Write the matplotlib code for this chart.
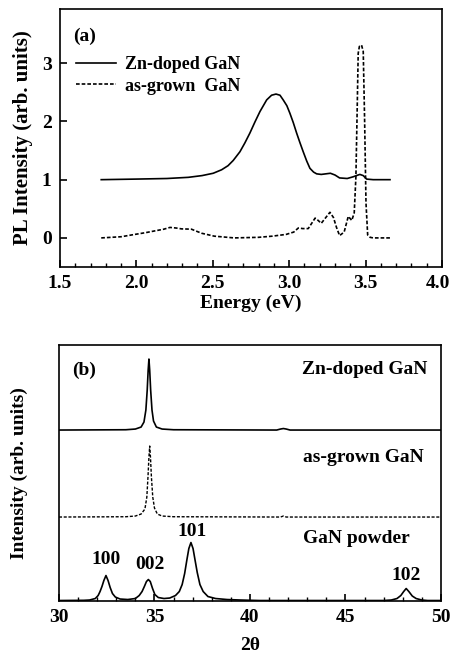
import numpy as np
import matplotlib
matplotlib.use("Agg")
import matplotlib.pyplot as plt
from matplotlib.ticker import MultipleLocator

# (a) PL spectra
pl_zn_x = [1.77, 2.0, 2.2, 2.34, 2.43, 2.503, 2.558, 2.6, 2.634, 2.678, 2.71, 2.743, 2.776, 2.809,
           2.853, 2.885, 2.914, 2.94, 2.961, 2.985, 3.005, 3.027, 3.049, 3.07, 3.092, 3.115,
           3.136, 3.16, 3.18, 3.21, 3.24, 3.27, 3.3, 3.33, 3.38, 3.42, 3.44, 3.463, 3.485,
           3.507, 3.55, 3.66]
pl_zn_y = [1.0, 1.01, 1.02, 1.04, 1.07, 1.11, 1.17, 1.24, 1.33, 1.48, 1.63, 1.80, 1.99, 2.17,
           2.37, 2.45, 2.47, 2.45, 2.37, 2.27, 2.14, 1.98, 1.80, 1.64, 1.48, 1.32,
           1.195, 1.13, 1.10, 1.09, 1.10, 1.11, 1.08, 1.03, 1.02, 1.05, 1.07, 1.09, 1.07,
           1.01, 1.0, 1.0]

pl_as_x = [1.77, 1.9, 1.99, 2.06, 2.12, 2.18, 2.22, 2.26, 2.296, 2.36, 2.427, 2.51, 2.64, 2.8,
           2.89, 2.98, 3.03, 3.06, 3.09, 3.125, 3.17, 3.19, 3.21, 3.24, 3.267, 3.29, 3.31,
           3.33, 3.36, 3.387, 3.41, 3.426, 3.437, 3.446, 3.452, 3.46, 3.474, 3.485,
           3.494, 3.503, 3.514, 3.53, 3.55, 3.66]
pl_as_y = [0.0, 0.02, 0.06, 0.09, 0.12, 0.15, 0.18, 0.17, 0.155, 0.15, 0.08, 0.03, 0.0, 0.01,
           0.03, 0.06, 0.1, 0.17, 0.16, 0.16, 0.34, 0.3, 0.25, 0.35, 0.44, 0.35, 0.18,
           0.04, 0.1, 0.37, 0.3, 0.43, 1.05, 2.3, 3.17, 3.29, 3.31, 3.2,
           2.02, 0.6, 0.05, 0.01, 0.0, 0.0]

pl_xticks = [1.5, 2.0, 2.5, 3.0, 3.5, 4.0]

# (b) XRD patterns (height above each baseline, arb. units)
xrd_zn_x = [30, 33.5, 34.0, 34.3, 34.45, 34.55, 34.62, 34.67, 34.71, 34.75, 34.8, 34.87, 34.95,
            35.1, 35.4, 36.0, 41.4, 41.6, 41.75, 41.9, 42.1, 50]
xrd_zn_y = [0, 0.3, 1, 3, 8, 20, 40, 60, 71, 60, 40, 20, 9, 3, 1, 0.3, 0, 1, 1.5, 1, 0, 0]

xrd_as_x = [30, 33.5, 34.0, 34.3, 34.5, 34.6, 34.66, 34.71, 34.75, 34.79, 34.84, 34.91, 35.0,
            35.15, 35.4, 36.0, 41.6, 41.75, 41.9, 50]
xrd_as_y = [0, 0.3, 1, 3, 8, 20, 40, 60, 71, 60, 40, 20, 9, 3, 1, 0.3, 0, 1, 0, 0]

xrd_pw_x = [30, 31.3, 31.6, 31.9, 32.05, 32.15, 32.25, 32.35, 32.46, 32.57, 32.68, 32.8, 32.95,
            33.2, 33.6, 34.0, 34.2, 34.35, 34.47, 34.58, 34.68, 34.78, 34.9, 35.02, 35.2, 35.5,
            35.8, 36.1, 36.3, 36.45, 36.58, 36.7, 36.8, 36.91, 37.02, 37.12, 37.24, 37.38, 37.55,
            37.8, 38.2, 38.8, 39.5, 40.5, 47.0, 47.4, 47.7, 47.9, 48.05, 48.18, 48.32, 48.5,
            48.7, 49.0, 49.3, 50]
xrd_pw_y = [0, 0.2, 0.5, 2, 5, 9, 14, 20, 25, 20, 13, 7, 3.5,
            1.5, 1, 2, 5, 9, 14, 19, 21, 19, 12, 6, 3, 2,
            2.5, 5, 9, 16, 27, 41, 52, 58, 52, 41, 28, 16, 9,
            4, 2, 1, 0.5, 0, 0, 0.5, 2, 5, 9, 12, 9, 4.5,
            2, 0.5, 0, 0]

offset_zn = 171
offset_as = 84
offset_pw = 0.5

peak_labels = ["100", "002", "101", "102"]
peak_pos = [32.45, 34.75, 36.95, 48.2]
peak_lab_y = [42, 37, 70, 26]

plt.rcParams["font.family"] = ["Liberation Serif", "DejaVu Serif"]
plt.rcParams["font.weight"] = "bold"
plt.rcParams["axes.labelweight"] = "bold"

fig = plt.figure(figsize=(4.52, 6.54), dpi=100)
ax1 = fig.add_axes([0.1327, 0.5917, 0.845, 0.3945])
ax2 = fig.add_axes([0.1305, 0.081, 0.845, 0.3914])

dash = (0, (2.2, 1.2))

ax1.plot(pl_zn_x, pl_zn_y, color="black", lw=1.2, label="Zn-doped GaN")
ax1.plot(pl_as_x, pl_as_y, color="black", lw=1.2, linestyle=dash, label="as-grown  GaN")
ax1.set_xlim(1.5, 4.0)
ax1.set_ylim(-0.5, 3.93)
ax1.set_yticks([0, 1, 2, 3])
# last label drawn separately so it stays inside the figure
ax1.set_xticks(pl_xticks, [f"{t:.1f}" for t in pl_xticks[:-1]] + [""])
ax1.annotate(f"{pl_xticks[-1]:.1f}", xy=(pl_xticks[-1], 0), xycoords=("data", "axes fraction"),
             xytext=(-3, -6), textcoords="offset points", ha="center", va="top", fontsize=14)
ax1.xaxis.set_minor_locator(MultipleLocator(0.1))
ax1.tick_params(direction="in", labelsize=14, length=5, width=1.2, pad=6)
ax1.tick_params(which="minor", direction="in", length=3, width=1)
ax1.set_xlabel("Energy (eV)", fontsize=14, labelpad=2)
ax1.set_ylabel("PL Intensity (arb. units)", fontsize=15, labelpad=6)
ax1.text(0.035, 0.875, "(a)", transform=ax1.transAxes, fontsize=14, fontweight="bold")
ax1.legend(loc="upper left", bbox_to_anchor=(0.0, 0.88), frameon=False, fontsize=13,
           handlelength=2.2, handletextpad=0.5, labelspacing=0.25)

ax2.plot(xrd_zn_x, np.array(xrd_zn_y) + offset_zn, color="black", lw=1.2)
ax2.plot(xrd_as_x, np.array(xrd_as_y) + offset_as, color="black", lw=1.0, linestyle=dash)
ax2.plot(xrd_pw_x, np.array(xrd_pw_y) + offset_pw, color="black", lw=1.2)
ax2.set_xlim(30, 50)
ax2.set_ylim(0, 256)
ax2.set_yticks([])
ax2.xaxis.set_major_locator(MultipleLocator(5))
ax2.xaxis.set_minor_locator(MultipleLocator(1))
ax2.tick_params(direction="in", labelsize=14, length=5, width=1.2, pad=6)
ax2.tick_params(which="minor", direction="in", length=3, width=1)
ax2.set_xlabel("2θ", fontsize=14, labelpad=8)
ax2.set_ylabel("Intensity (arb. units)", fontsize=14, labelpad=22)
ax2.text(0.035, 0.885, "(b)", transform=ax2.transAxes, fontsize=14, fontweight="bold")
ax2.text(0.965, 0.905, "Zn-doped GaN", transform=ax2.transAxes, fontsize=14, ha="right", va="center")
ax2.text(0.955, 0.56, "as-grown GaN", transform=ax2.transAxes, fontsize=14, ha="right", va="center")
ax2.text(0.64, 0.245, "GaN powder", transform=ax2.transAxes, fontsize=14, ha="left", va="center")
for lab, px, py in zip(peak_labels, peak_pos, peak_lab_y):
    ax2.text(px, py, lab, fontsize=14, ha="center", va="center")

for ax in (ax1, ax2):
    for s in ax.spines.values():
        s.set_linewidth(1.2)

fig.savefig("out.png", dpi=100)
